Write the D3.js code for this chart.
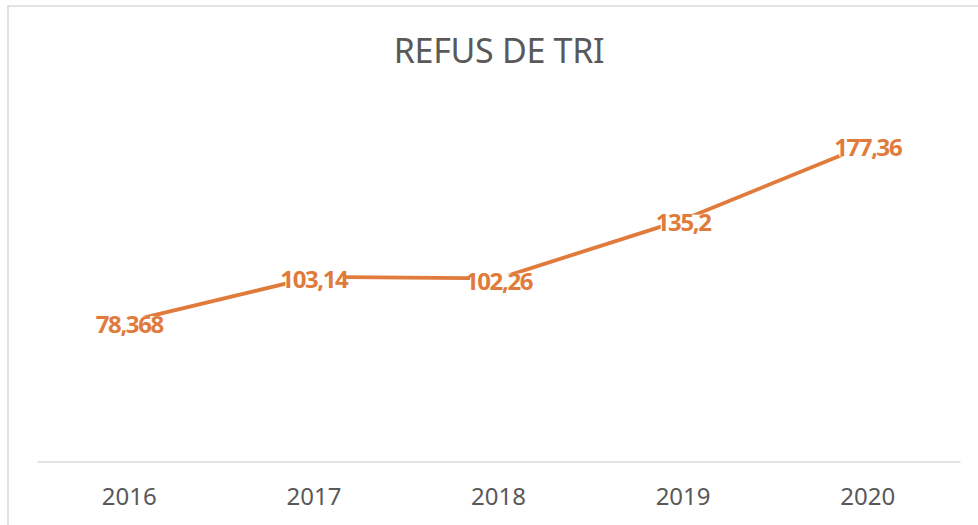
<!DOCTYPE html>
<html>
<head>
<meta charset="utf-8">
<script src="https://cdn.jsdelivr.net/npm/d3@7"></script>
<style>
  body { margin: 0; background: #fff; }
  svg { display: block; }
</style>
</head>
<body>
<script>
// values
const years = ["2016", "2017", "2018", "2019", "2020"]
const refus = [78.368, 103.14, 102.26, 135.2, 177.36]
const labels = ["78,368", "103,14", "102,26", "135,2", "177,36"]
const title = "REFUS DE TRI"

const w = 978
const h = 525
const orange = "#E07B3C"
const grey = "#595959"

const svg = d3.select("body").append("svg").attr("width", w).attr("height", h)

// chart frame (runs off the right and bottom of the picture)
svg.append("rect").attr("x", 8).attr("y", 6).attr("width", w + 20).attr("height", h + 20)
  .attr("fill", "#fff").attr("stroke", "#d9d9d9").attr("stroke-width", 1.5)

svg.append("text").attr("x", 499).attr("y", 63).attr("text-anchor", "middle")
  .style("font-family", "'Noto Sans'").style("font-size", "34px").style("fill", grey)
  .style("letter-spacing", "-0.3px")
  .text(title)

const xScale = d3.scaleBand().domain(years).range([37, 960])
const yScale = d3.scaleLinear().domain([0, 200]).range([461, 104])

const xAxis = svg.append("g").attr("transform", "translate(0," + 461.5 + ")")
  .call(d3.axisBottom(xScale).tickSize(0).tickPadding(26))
xAxis.select(".domain").attr("stroke", "#d9d9d9").attr("stroke-width", 1.5)
xAxis.selectAll("text").style("font-family", "'Noto Sans'").style("font-size", "24px").style("fill", grey)

const data = years.map((y, i) => ({year: y, v: refus[i], label: labels[i]}))
const cx = d => xScale(d.year) + xScale.bandwidth() / 2

const line = d3.line().x(cx).y(d => yScale(d.v))
svg.append("path").datum(data).attr("d", line).attr("fill", "none")
  .attr("stroke", orange).attr("stroke-width", 3.8).attr("stroke-linejoin", "round")

const lbl = svg.selectAll(".lbl").data(data).enter().append("g").attr("class", "lbl")
  .attr("transform", d => "translate(" + cx(d) + "," + (yScale(d.v) + 3) + ")")
const bg = lbl.append("rect").attr("fill", "#fff")
const txt = lbl.append("text").attr("text-anchor", "middle").attr("y", 8.5)
  .style("font-family", "'Noto Sans'").style("font-weight", "bold").style("font-size", "24px")
  .style("letter-spacing", "-1.4px").style("fill", orange)
  .text(d => d.label)
txt.each(function () {
  const b = this.getBBox()
  d3.select(this.parentNode).select("rect")
    .attr("x", b.x + 5).attr("width", b.width - 10).attr("y", -8).attr("height", 17)
})
</script>
</body>
</html>
